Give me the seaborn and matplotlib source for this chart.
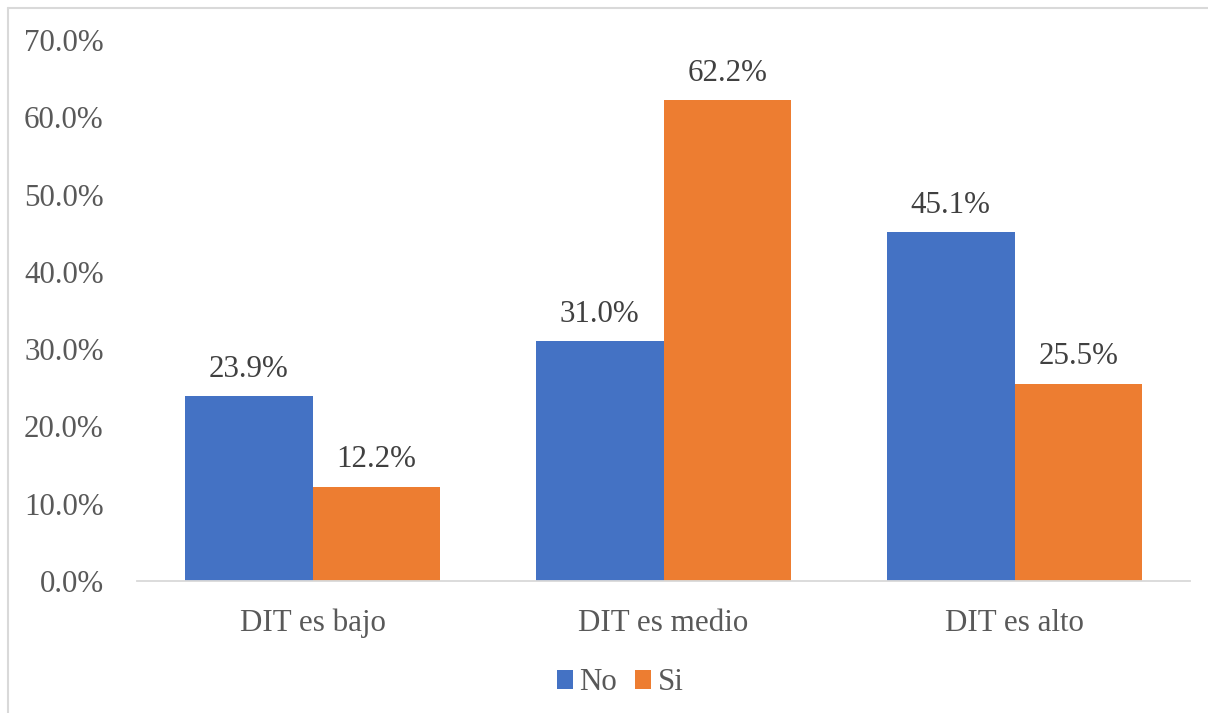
import matplotlib
matplotlib.use("Agg")
import matplotlib.pyplot as plt
from matplotlib.lines import Line2D
from matplotlib.patches import Patch
import seaborn as sns
import pandas as pd

categories = ["DIT es bajo", "DIT es medio", "DIT es alto"]
series_names = ["No", "Si"]
no_values = [23.9, 31.0, 45.1]
si_values = [12.2, 62.2, 25.5]
colors = ["#4472C4", "#ED7D31"]
tick_values = [0, 10, 20, 30, 40, 50, 60, 70]

df = pd.DataFrame({
    "cat": categories * 2,
    "serie": [series_names[0]] * 3 + [series_names[1]] * 3,
    "val": no_values + si_values,
})

sns.set_theme(style="white")
plt.rcParams["font.family"] = ["Liberation Serif", "DejaVu Serif"]
txt = "#595959"
fs = 22.3

fig = plt.figure(figsize=(12.08, 7.13), dpi=100)
ax = fig.add_axes([137/1208, 1-581/713, (1190-137)/1208, (581-40)/713])

sns.barplot(data=df, x="cat", y="val", hue="serie", palette=colors,
            order=categories, hue_order=series_names, width=0.727,
            saturation=1, ax=ax, legend=False, linewidth=0)

ax.set_xlim(-0.5, 2.5)
ax.set_ylim(0, 70)
ax.set_yticks(tick_values)
ax.set_yticklabels([f"{v:.1f}%" for v in tick_values])
ax.set_xlabel("")
ax.set_ylabel("")
for s in ["top", "right", "left"]:
    ax.spines[s].set_visible(False)
ax.spines["bottom"].set_color("#d9d9d9")
ax.spines["bottom"].set_linewidth(1.3)
ax.tick_params(axis="both", length=0, labelsize=fs, colors=txt)
ax.tick_params(axis="y", pad=24)
ax.tick_params(axis="x", pad=20)

for cont in ax.containers:
    ax.bar_label(cont, labels=[f"{b.get_height():.1f}%" for b in cont],
                 padding=9, fontsize=fs, color="#404040")

handles = [Patch(facecolor=c, edgecolor="none") for c in colors]
fig.legend(handles, series_names, loc="center", bbox_to_anchor=(620/1208, 1-683/713),
           ncol=2, frameon=False, fontsize=fs, labelcolor=txt,
           handlelength=0.52, handleheight=0.52, handletextpad=0.2, columnspacing=0.6)

bx = 8/1208
by = 1 - 8/713
fig.add_artist(Line2D([bx, bx], [0, by], transform=fig.transFigure, color="#d9d9d9", lw=1.5))
fig.add_artist(Line2D([bx, 1], [by, by], transform=fig.transFigure, color="#d9d9d9", lw=1.5))

fig.savefig("out.png", dpi=100)
